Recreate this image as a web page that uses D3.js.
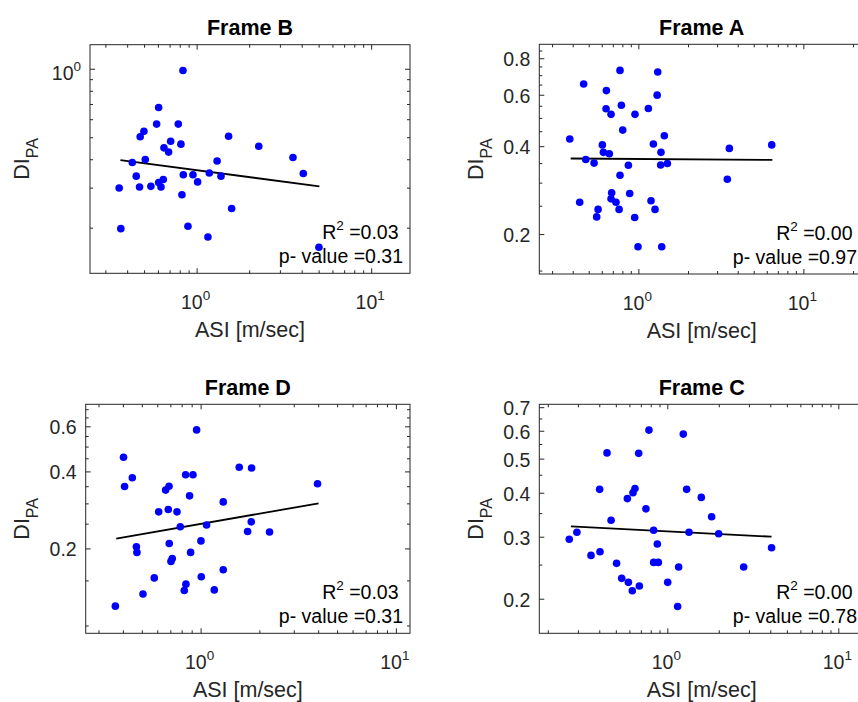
<!DOCTYPE html>
<html>
<head>
<meta charset="utf-8">
<script src="https://cdn.jsdelivr.net/npm/d3@7"></script>
<style>
  body { margin: 0; background: #fff; }
  svg { display: block; font-family: "Liberation Sans", Arial, Helvetica, sans-serif; }
</style>
</head>
<body>
<svg width="858" height="702"></svg>
<script>
// data (ASI in m/sec, DI_PA)
var frameB_asi = [0.835, 0.606, 0.590, 0.785, 0.499, 0.475, 1.525, 0.710, 0.813, 0.650, 0.691, 2.27, 0.508, 0.428, 1.31, 3.565, 0.451, 0.839, 0.953, 1.182, 1.379, 4.085, 0.644, 0.606, 1.013, 0.360, 0.471, 0.547, 0.625, 0.824, 1.587, 0.368, 0.892, 1.161, 5.02];
var frameB_di = [0.983, 0.676, 0.571, 0.571, 0.531, 0.502, 0.505, 0.480, 0.466, 0.449, 0.430, 0.456, 0.399, 0.387, 0.393, 0.407, 0.337, 0.342, 0.342, 0.348, 0.337, 0.346, 0.326, 0.316, 0.318, 0.299, 0.302, 0.304, 0.302, 0.279, 0.243, 0.198, 0.203, 0.182, 0.164];
var frameB_fitX = [0.366, 5.05];
var frameB_fitY = [0.396, 0.304];

var frameA_asi = [0.774, 1.31, 0.466, 0.640, 1.30, 0.789, 0.637, 1.15, 0.683, 0.954, 0.804, 0.384, 1.437, 0.605, 1.233, 3.56, 6.43, 0.614, 0.667, 1.371, 0.480, 0.539, 0.870, 1.365, 1.499, 0.774, 3.46, 0.689, 0.886, 0.683, 0.732, 0.441, 1.193, 0.570, 0.764, 1.262, 0.559, 0.950, 0.995, 1.385];
var frameA_di = [0.727, 0.718, 0.653, 0.620, 0.598, 0.552, 0.537, 0.538, 0.514, 0.514, 0.454, 0.423, 0.434, 0.404, 0.407, 0.393, 0.404, 0.381, 0.377, 0.381, 0.360, 0.350, 0.344, 0.345, 0.349, 0.318, 0.308, 0.277, 0.2755, 0.264, 0.257, 0.257, 0.260, 0.243, 0.243, 0.243, 0.229, 0.228, 0.181, 0.181];
var frameA_fitX = [0.389, 6.49];
var frameA_fitY = [0.363, 0.359];

var frameD_asi = [0.954, 0.403, 1.577, 1.824, 0.447, 0.838, 0.914, 3.97, 0.408, 0.662, 0.689, 0.878, 1.306, 0.610, 0.683, 0.757, 0.787, 1.073, 1.817, 1.740, 2.254, 0.469, 0.472, 0.691, 1.004, 0.889, 0.705, 0.716, 1.306, 0.579, 1.008, 0.841, 0.825, 1.175, 0.507, 0.366];
var frameD_di = [0.581, 0.454, 0.415, 0.4125, 0.378, 0.388, 0.388, 0.358, 0.349, 0.338, 0.350, 0.321, 0.304, 0.278, 0.284, 0.278, 0.243, 0.247, 0.254, 0.233, 0.232, 0.203, 0.193, 0.209, 0.214, 0.193, 0.178, 0.1825, 0.165, 0.1534, 0.155, 0.145, 0.137, 0.1377, 0.1328, 0.119];
var frameD_fitX = [0.370, 4.02];
var frameD_fitY = [0.2185, 0.300];

var frameC_asi = [0.781, 1.240, 0.444, 0.680, 0.402, 0.647, 0.630, 1.297, 0.584, 1.580, 0.750, 1.816, 0.469, 0.296, 0.832, 1.339, 1.996, 0.267, 0.874, 4.07, 0.404, 0.358, 0.505, 0.832, 0.886, 1.165, 2.796, 0.541, 0.592, 1.005, 0.686, 0.624, 1.149];
var frameC_di = [0.6026, 0.587, 0.519, 0.5176, 0.409, 0.411, 0.400, 0.409, 0.385, 0.388, 0.360, 0.342, 0.334, 0.309, 0.313, 0.309, 0.306, 0.295, 0.286, 0.279, 0.272, 0.2655, 0.252, 0.2536, 0.2536, 0.246, 0.246, 0.2285, 0.2226, 0.2226, 0.2173, 0.2107, 0.190];
var frameC_fitX = [0.273, 4.07];
var frameC_fitY = [0.321, 0.300];

// tick values
var xMajorTicks = [1, 10];
var xMajorExp = ["0", "1"];
var xMinorTicks = [0.2, 0.3, 0.4, 0.5, 0.6, 0.7, 0.8, 0.9, 2, 3, 4, 5, 6, 7, 8, 9, 20];
var yTicksB = [1];
var yMinorB = [0.2, 0.3, 0.4, 0.5, 0.6, 0.7, 0.8, 0.9];
var yTicksA = [0.2, 0.4, 0.6, 0.8];
var yMinorA = [0.15, 0.25, 0.3, 0.35, 0.45, 0.5, 0.55, 0.65, 0.7, 0.75, 0.85];
var yTicksD = [0.2, 0.4, 0.6];
var yMinorD = [0.1, 0.15, 0.25, 0.3, 0.35, 0.45, 0.5, 0.55, 0.65, 0.7];
var yTicksC = [0.2, 0.3, 0.4, 0.5, 0.6, 0.7];
var yMinorC = [0.25, 0.35, 0.45, 0.55, 0.65];

var statsR2 = ["0.03", "0.00", "0.03", "0.00"];
var statsP = ["0.31", "0.97", "0.31", "0.78"];

var svg = d3.select("svg");
var axisColor = "#262626";
var tickFont = 19.5, labelFont = 21.5;

// layout of the four axes boxes: [left, top, right, bottom]
var panels = [
  { title: "Frame B", xs: frameB_asi, ys: frameB_di, fx: frameB_fitX, fy: frameB_fitY,
    box: [90, 44.7, 410, 273.3], xdom: [0.245, 16.69], ydom: [0.126, 1.276],
    yTicks: yTicksB, yMinor: yMinorB, yExp: true, ylabOff: 61, r2: statsR2[0], p: statsP[0] },
  { title: "Frame A", xs: frameA_asi, ys: frameA_di, fx: frameA_fitX, fy: frameA_fitY,
    box: [539.3, 44.3, 864, 274], xdom: [0.251, 23.3], ydom: [0.146, 0.893],
    yTicks: yTicksA, yMinor: yMinorA, yExp: false, ylabOff: 56.6, r2: statsR2[1], p: statsP[1] },
  { title: "Frame D", xs: frameD_asi, ys: frameD_di, fx: frameD_fitX, fy: frameD_fitY,
    box: [85.7, 404.3, 410, 633.3], xdom: [0.258, 11.81], ydom: [0.0932, 0.7315],
    yTicks: yTicksD, yMinor: yMinorD, yExp: false, ylabOff: 56.4, r2: statsR2[2], p: statsP[2] },
  { title: "Frame C", xs: frameC_asi, ys: frameC_di, fx: frameC_fitX, fy: frameC_fitY,
    box: [539.3, 404.3, 864, 633.3], xdom: [0.1784, 14.13], ydom: [0.1595, 0.7133],
    yTicks: yTicksC, yMinor: yMinorC, yExp: false, ylabOff: 56.6, r2: statsR2[3], p: statsP[3] }
];

panels.forEach(drawPanel);

function inDomain(vals, dom) {
  return vals.filter(function (v) {
    return v > dom[0] && v < dom[1];
  });
}

function drawPanel(p) {
  var l = p.box[0], t = p.box[1], r = p.box[2], b = p.box[3];
  var g = svg.append("g");

  var x = d3.scaleLog().domain(p.xdom).range([l, r]);
  var y = d3.scaleLog().domain(p.ydom).range([b, t]);

  var xMaj = inDomain(xMajorTicks, p.xdom),
    xMin = inDomain(xMinorTicks, p.xdom);

  // tick marks on all four sides, pointing inward
  function ticks(axisFn, scale, vals, size, tr) {
    g.append("g")
      .attr("transform", tr)
      .attr("color", axisColor)
      .call(axisFn(scale).tickValues(vals).tickSize(-size).tickFormat(""))
      .call(function (s) {
        s.select(".domain").remove();
      });
  }
  ticks(d3.axisBottom, x, xMaj, 5, "translate(0," + b + ")");
  ticks(d3.axisBottom, x, xMin, 3, "translate(0," + b + ")");
  ticks(d3.axisTop, x, xMaj, 5, "translate(0," + t + ")");
  ticks(d3.axisTop, x, xMin, 3, "translate(0," + t + ")");
  ticks(d3.axisLeft, y, p.yTicks, 5, "translate(" + l + ",0)");
  ticks(d3.axisLeft, y, p.yMinor, 3, "translate(" + l + ",0)");
  ticks(d3.axisRight, y, p.yTicks, 5, "translate(" + r + ",0)");
  ticks(d3.axisRight, y, p.yMinor, 3, "translate(" + r + ",0)");

  g.append("rect")
    .attr("x", l)
    .attr("y", t)
    .attr("width", r - l)
    .attr("height", b - t)
    .attr("fill", "none")
    .attr("stroke", axisColor)
    .attr("stroke-width", 1);

  // x tick labels 10^n
  var xl = g.selectAll(".xlab")
    .data(xMaj)
    .enter()
    .append("text")
    .attr("class", "xlab")
    .attr("x", function (d) {
      return x(d) - 1;
    })
    .attr("y", b + 36)
    .attr("text-anchor", "middle")
    .attr("fill", axisColor)
    .style("font-size", tickFont + "px");
  xl.append("tspan").text("10");
  xl.append("tspan")
    .attr("dy", -9)
    .style("font-size", "13.5px")
    .text(function (d) {
      return xMajorExp[xMajorTicks.indexOf(d)];
    });

  // y tick labels
  var yl = g.selectAll(".ylab")
    .data(p.yTicks)
    .enter()
    .append("text")
    .attr("class", "ylab")
    .attr("x", l - 9)
    .attr("y", function (d) {
      return y(d) + (p.yExp ? 11 : 8);
    })
    .attr("text-anchor", "end")
    .attr("fill", axisColor)
    .style("font-size", tickFont + "px");
  if (p.yExp) {
    yl.append("tspan").text("10");
    yl.append("tspan").attr("dy", -9).style("font-size", "13.5px").text("0");
  } else {
    yl.text(function (d) {
      return d3.format(".1f")(d);
    });
  }

  // regression line
  var line = d3.line()
    .x(function (d) {
      return x(d[0]);
    })
    .y(function (d) {
      return y(d[1]);
    });
  g.append("path")
    .datum(d3.zip(p.fx, p.fy))
    .attr("d", line)
    .attr("fill", "none")
    .attr("stroke", "#000")
    .attr("stroke-width", 1.8);

  // points
  g.selectAll("circle")
    .data(d3.zip(p.xs, p.ys))
    .enter()
    .append("circle")
    .attr("cx", function (d) {
      return x(d[0]);
    })
    .attr("cy", function (d) {
      return y(d[1]);
    })
    .attr("r", 3.8)
    .attr("fill", "#0000ff");

  // stats text
  var rt = g.append("text")
    .attr("x", r - 11.5)
    .attr("y", b - 34)
    .attr("text-anchor", "end")
    .attr("fill", "#000")
    .style("font-size", tickFont + "px");
  rt.append("tspan").text("R");
  rt.append("tspan").attr("dy", -9).style("font-size", "13.5px").text("2");
  rt.append("tspan").attr("dy", 9).text(" =" + p.r2);

  g.append("text")
    .attr("x", r - 7)
    .attr("y", b - 10)
    .attr("text-anchor", "end")
    .attr("fill", "#000")
    .style("font-size", tickFont + "px")
    .text("p- value =" + p.p);

  // title and axis labels
  g.append("text")
    .attr("x", (l + r) / 2)
    .attr("y", t - 9.7)
    .attr("text-anchor", "middle")
    .attr("fill", "#000")
    .style("font-size", labelFont + "px")
    .style("font-weight", "bold")
    .text(p.title);

  g.append("text")
    .attr("x", (l + r) / 2)
    .attr("y", b + 64)
    .attr("text-anchor", "middle")
    .attr("fill", axisColor)
    .style("font-size", labelFont + "px")
    .text("ASI [m/sec]");

  var yt = g.append("text")
    .attr("transform", "translate(" + (l - p.ylabOff) + "," + (t + b) / 2 + ") rotate(-90)")
    .attr("text-anchor", "middle")
    .attr("fill", axisColor)
    .style("font-size", labelFont + "px");
  yt.append("tspan").text("DI");
  yt.append("tspan").attr("dy", 9).style("font-size", "16px").text("PA");
}
</script>
</body>
</html>
